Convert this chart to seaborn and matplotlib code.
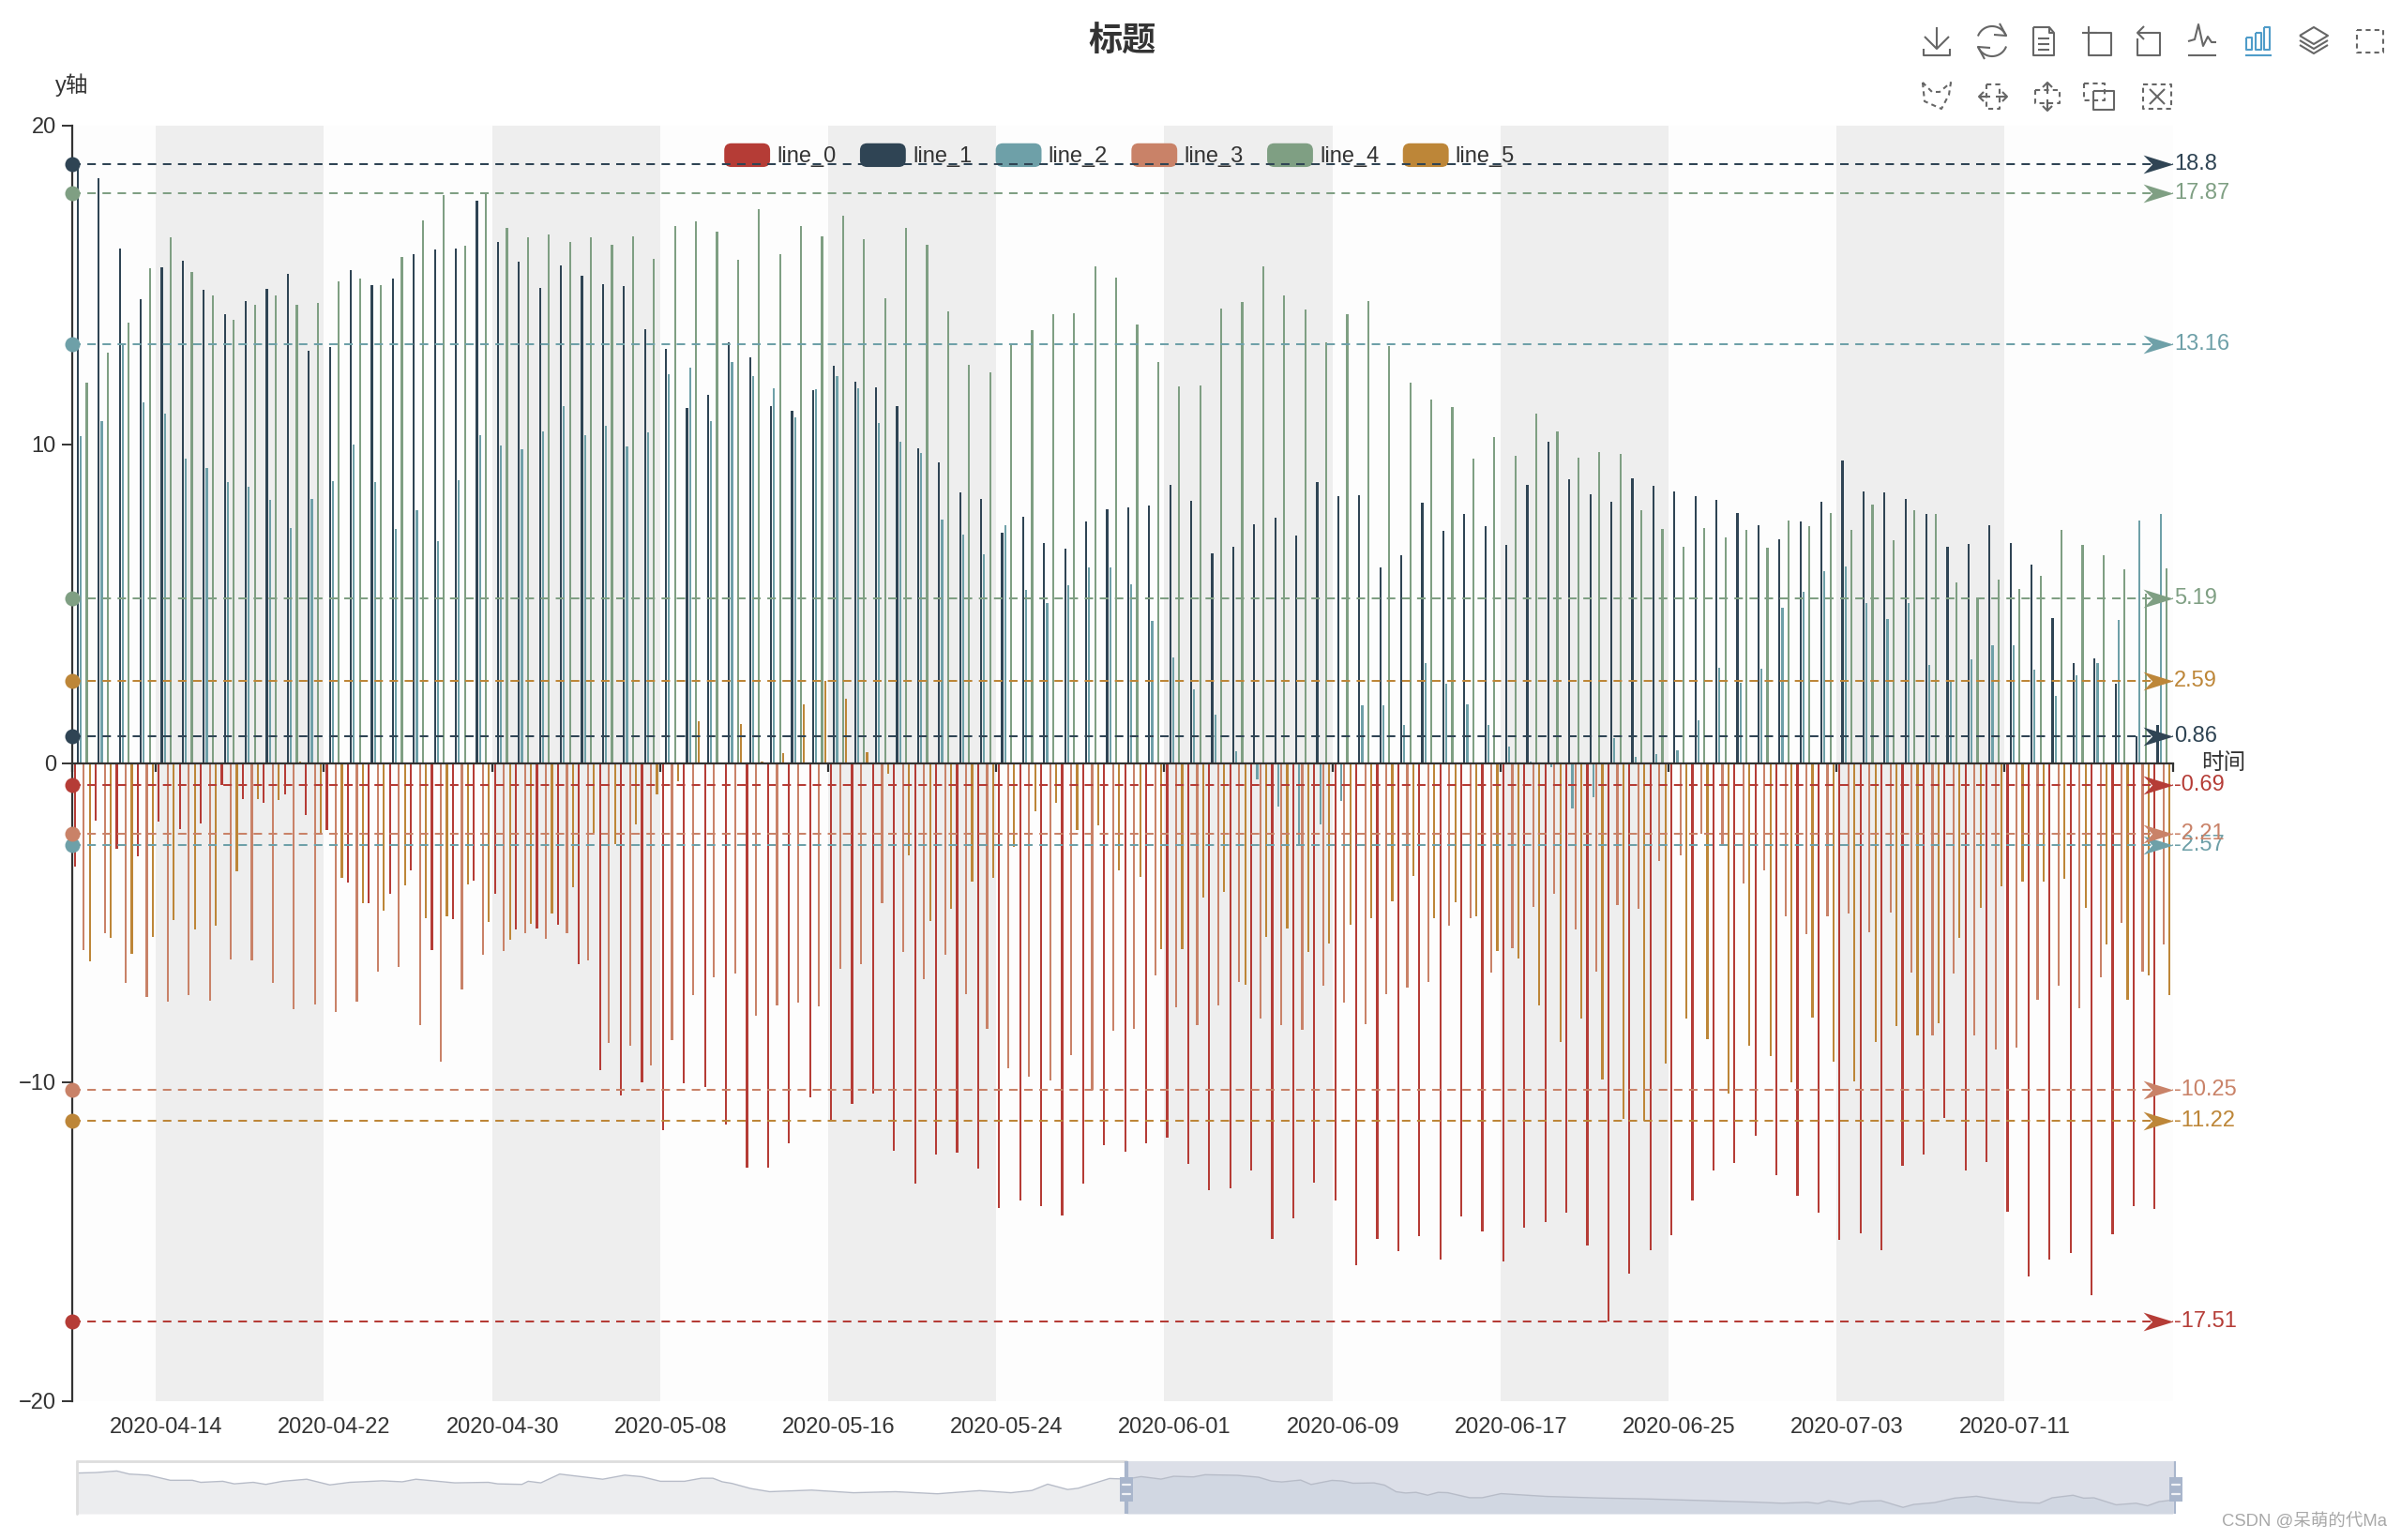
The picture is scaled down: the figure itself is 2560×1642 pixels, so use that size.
import numpy as np
import pandas as pd
import matplotlib
matplotlib.use('Agg')
import matplotlib.pyplot as plt
import seaborn as sns
from matplotlib.legend_handler import HandlerPatch
from matplotlib.patches import FancyBboxPatch, Patch, Rectangle
from matplotlib.path import Path

# Series, one value per day
line_0 = [-3.23, -1.78, -2.68, -2.9, -1.83, -2.07, -1.89, -0.69, -1.12, -1.25,
          -0.96, -1.62, -2.1, -3.75, -4.37, -4.1, -3.36, -5.85, -4.87, -3.68,
          -4.09, -5.22, -5.17, -5.06, -6.28, -9.61, -10.41, -10.0, -11.49, -10.04,
          -10.16, -11.32, -12.67, -12.69, -11.9, -10.47, -11.22, -10.67, -10.35, -12.16,
          -13.17, -12.25, -12.2, -12.71, -13.93, -13.71, -13.89, -14.17, -13.17, -11.98,
          -12.18, -11.91, -11.73, -12.56, -13.37, -13.32, -12.77, -14.91, -14.27, -13.16,
          -13.71, -15.73, -14.91, -15.29, -14.81, -15.56, -14.22, -14.68, -15.62, -14.55,
          -14.39, -14.08, -15.11, -17.51, -16.0, -15.26, -14.78, -13.72, -12.75, -12.53,
          -11.68, -12.91, -13.55, -14.08, -14.94, -14.74, -15.25, -12.62, -12.25, -11.13,
          -12.75, -12.51, -14.06, -16.1, -15.55, -15.36, -16.67, -14.75, -13.88, -13.97]
line_1 = [18.8, 18.36, 16.14, 14.56, 15.56, 15.77, 14.85, 14.1, 14.5, 14.87,
          15.34, 12.94, 13.05, 15.48, 14.99, 15.2, 15.97, 16.12, 16.14, 17.64,
          16.35, 15.74, 14.92, 15.62, 15.3, 15.04, 14.97, 13.62, 13.0, 11.14,
          11.56, 13.22, 12.74, 11.21, 11.06, 11.72, 12.46, 11.98, 11.78, 11.21,
          9.88, 9.44, 8.51, 8.3, 7.23, 7.73, 6.91, 6.74, 7.59, 7.96,
          8.02, 8.09, 8.74, 8.24, 6.59, 6.78, 7.51, 7.71, 7.14, 8.82,
          8.39, 8.41, 6.15, 6.52, 8.18, 7.29, 7.82, 7.44, 6.86, 8.74,
          10.1, 8.9, 8.45, 8.22, 8.94, 8.72, 8.52, 8.39, 8.26, 7.86,
          7.46, 7.03, 7.59, 8.22, 9.49, 8.54, 8.5, 8.3, 7.83, 6.8,
          6.89, 7.46, 6.92, 6.24, 4.55, 3.16, 3.28, 2.5, 0.86, 1.22]
line_2 = [10.25, 10.73, 13.16, 11.33, 10.98, 9.56, 9.26, 8.83, 8.69, 8.27,
          7.37, 8.29, 8.86, 10.0, 8.83, 7.35, 7.94, 6.98, 8.89, 10.28,
          9.96, 9.85, 10.41, 11.21, 10.29, 10.59, 9.93, 10.38, 12.2, 12.4,
          10.73, 12.6, 12.15, 11.76, 10.84, 11.74, 12.15, 11.77, 10.69, 10.1,
          9.74, 7.64, 7.17, 6.55, 7.47, 5.45, 5.03, 5.6, 6.16, 6.15,
          5.62, 4.47, 3.32, 2.33, 1.52, 0.37, -0.51, -1.36, -2.57, -1.9,
          -1.19, 1.81, 1.81, 1.22, 3.15, 2.51, 1.86, 1.2, 0.54, 0.07,
          -0.12, -1.4, -1.07, 0.79, 0.2, 0.29, 0.4, 1.36, 3.01, 2.54,
          2.98, 4.87, 5.39, 6.02, 6.18, 5.04, 4.54, 5.04, 3.08, 2.57,
          3.25, 3.72, 3.7, 2.93, 2.13, 2.77, 3.16, 4.5, 7.62, 7.83]
line_3 = [-5.85, -5.33, -6.88, -7.32, -7.48, -7.26, -7.43, -6.14, -6.17, -6.88,
          -7.71, -7.57, -7.78, -7.46, -6.53, -6.37, -8.22, -9.35, -7.08, -5.99,
          -5.88, -5.33, -5.5, -5.32, -6.17, -8.77, -8.85, -9.46, -8.69, -7.27,
          -6.72, -6.6, -7.9, -7.6, -7.5, -7.63, -6.44, -6.3, -4.39, -5.91,
          -6.76, -5.99, -7.23, -8.31, -9.57, -9.82, -9.95, -9.15, -10.25, -8.37,
          -8.32, -6.64, -7.65, -8.22, -7.58, -6.85, -8.01, -8.22, -8.34, -6.97,
          -7.5, -8.17, -7.25, -7.04, -6.85, -5.08, -4.84, -6.55, -5.79, -4.5,
          -4.1, -5.2, -6.54, -4.43, -4.56, -3.05, -2.87, -2.21, -2.58, -3.77,
          -3.36, -4.78, -5.35, -4.78, -4.71, -5.29, -4.69, -6.55, -8.52, -6.6,
          -8.52, -8.98, -8.9, -7.42, -6.97, -7.68, -6.7, -5.01, -6.53, -5.68]
line_4 = [11.94, 12.88, 13.81, 15.52, 16.49, 15.42, 14.69, 13.9, 14.37, 14.69,
          14.37, 14.45, 15.11, 15.21, 15.0, 15.88, 17.04, 17.82, 16.24, 17.87,
          16.8, 16.49, 16.59, 16.36, 16.5, 16.26, 16.53, 15.81, 16.84, 17.0,
          16.67, 15.79, 17.38, 15.98, 16.84, 16.54, 17.17, 16.43, 14.59, 16.79,
          16.26, 14.19, 12.49, 12.27, 13.16, 13.59, 14.08, 14.12, 15.6, 15.23,
          13.76, 12.6, 11.81, 11.85, 14.27, 14.46, 15.6, 14.68, 14.24, 13.21,
          14.09, 14.5, 13.08, 11.94, 11.42, 11.17, 9.56, 10.23, 9.65, 10.96,
          10.4, 9.6, 9.76, 9.71, 7.95, 7.35, 6.79, 7.39, 7.09, 7.32,
          6.76, 7.62, 7.45, 7.84, 7.32, 8.11, 7.0, 7.95, 7.83, 5.68,
          5.19, 5.77, 5.48, 5.87, 7.33, 6.86, 6.52, 6.09, 5.33, 6.11]
line_5 = [-6.21, -5.47, -5.96, -5.43, -4.9, -5.2, -5.08, -3.39, -1.12, -1.15,
          0.07, -2.21, -3.6, -4.38, -4.61, -3.82, -4.84, -4.78, -3.8, -4.98,
          -5.52, -5.02, -4.72, -3.88, -2.18, -2.52, -1.91, -0.96, -0.55, 1.31,
          0.03, 1.23, 0.05, 0.31, 1.85, 2.59, 2.04, 0.34, -0.33, -2.88,
          -4.95, -4.56, -3.72, -3.59, -2.63, -1.51, -1.23, -2.1, -1.93, -3.34,
          -3.56, -5.83, -5.83, -4.22, -4.02, -6.95, -5.43, -5.18, -5.91, -5.66,
          -5.05, -4.86, -4.31, -3.53, -4.84, -4.36, -4.78, -5.87, -6.13, -7.59,
          -8.74, -8.01, -9.92, -11.15, -11.22, -9.41, -8.01, -8.64, -10.34, -8.86,
          -9.17, -10.0, -7.98, -9.36, -9.97, -8.75, -8.24, -8.52, -8.15, -5.48,
          -4.53, -3.86, -3.72, -3.72, -3.63, -4.54, -5.68, -7.4, -6.66, -7.27]

series_names = ['line_0', 'line_1', 'line_2', 'line_3', 'line_4', 'line_5']
series_colors = ['#b53c36', '#2f4454', '#6ea0a8', '#c98268', '#7f9f83', '#bd8638']
mark_values = [[-0.69, -17.51], [18.8, 0.86], [13.16, -2.57],
               [-2.21, -10.25], [17.87, 5.19], [2.59, -11.22]]
dates = pd.date_range('2020-04-10', periods=100).strftime('%Y-%m-%d').tolist()

# Data shadow of the zoom slider, slider spans 200 days
shadow_day = [0, 1.8, 3.8, 5, 6.8, 8.9, 11, 11.8, 13.9, 15, 16.8, 18, 19.6, 21.9, 24.1, 26,
              29.1, 31, 32.3, 36, 39.2, 40.1, 42.4, 43, 44.2, 46, 50.1, 52.2, 53.8, 55.6,
              57.9, 59.5, 60.6, 61.5, 62.4, 64.2, 66, 70, 74, 78, 82, 86, 89,
              91, 92.5, 94.4, 95.4, 98.4, 100, 101.4, 103.3, 104.5, 106.4, 107.5, 110.6,
              112.6, 113.8, 114.8, 116.6, 117.6, 119.6, 120.6, 121.6, 123.6, 124.6, 125.7,
              126.6, 127.6, 128.7, 129.7, 130.6, 132.7, 133.9, 135.7, 140, 145, 150, 155, 160,
              162.5, 164.9, 165.9, 166.9, 168.9, 170, 171.9, 174, 175, 177, 178.9, 181,
              182.5, 185, 187, 188.2, 190.2, 191.2, 192.2, 194.3, 196.2, 197.3, 198.4, 199.7]
shadow_level = [.775, .784, .814, .755, .735, .637, .637, .598, .618, .569, .598, .559, .618, .657, .549, .598,
                .627, .608, .657, .588, .598, .569, .559, .618, .588, .755, .657, .735, .706, .618,
                .618, .676, .676, .608, .578, .48, .42, .45, .40, .42, .38, .44, .40,
                .443, .563, .461, .485, .671, .659, .707, .659, .713, .701, .743, .731,
                .695, .623, .605, .641, .557, .635, .623, .581, .587, .545, .419,
                .395, .407, .353, .407, .401, .305, .305, .383, .33, .30, .28, .25, .22,
                .2, .218, .194, .248, .182, .236, .248, .121, .176, .212, .297, .333,
                .285, .218, .2, .303, .352, .297, .303, .17, .2, .152, .23, .261]

sns.set_theme(style='white')
plt.rcParams['font.family'] = ['Liberation Sans', 'Noto Sans CJK SC']
plt.rcParams['axes.edgecolor'] = '#333333'
plt.rcParams['xtick.color'] = '#333333'
plt.rcParams['ytick.color'] = '#333333'
plt.rcParams['text.color'] = '#333333'
plt.rcParams['axes.labelcolor'] = '#333333'

W, H = 2560, 1642
fig = plt.figure(figsize=(W / 100, H / 100), dpi=100, facecolor='white')
ax = fig.add_axes([76.5 / W, 1 - 1494 / H, 2240 / W, 1360 / H])

df = pd.DataFrame({'date': dates, 'line_0': line_0, 'line_1': line_1, 'line_2': line_2,
                   'line_3': line_3, 'line_4': line_4, 'line_5': line_5})
long_df = df.melt(id_vars='date', var_name='series', value_name='value')

sns.barplot(data=long_df, x='date', y='value', hue='series', hue_order=series_names,
            palette=series_colors, saturation=1, width=0.857, gap=0.3, dodge=True,
            errorbar=None, linewidth=0, legend=False, ax=ax)
ax.set_xlim(-0.5, 99.5)
ax.set_ylim(-20, 20)

# Split areas, 8 days each
ax.set_facecolor('white')
edges = [-0.5] + list(np.arange(3.5, 99.5, 8)) + [99.5]
for k in range(len(edges) - 1):
    ax.axvspan(edges[k], edges[k + 1], color='#eeeeee' if k % 2 else '#fdfdfd', lw=0, zorder=0)

# Axes
for side in ['top', 'right']:
    ax.spines[side].set_visible(False)
ax.spines['bottom'].set_position(('data', 0))
ax.spines['bottom'].set_linewidth(1.6)
ax.spines['left'].set_linewidth(1.6)
ax.set_xticks(edges)
ax.set_xticklabels([])
ax.set_xticks(range(4, 100, 8), labels=dates[4::8], minor=True)
ax.tick_params(axis='x', which='major', bottom=True, length=6.5, width=1.6)
ax.tick_params(axis='x', which='minor', bottom=True, length=0, pad=502, labelsize=17)
ax.set_yticks([-20, -10, 0, 10, 20])
ax.tick_params(axis='y', left=True, length=8, width=1.4, pad=4, labelsize=17)
ax.set_ylabel('y轴', rotation=0, fontsize=17, ha='center', va='center')
ax.yaxis.set_label_coords(0, 1.032)
ax.set_xlabel('时间', fontsize=17, ha='center', va='center')
ax.xaxis.set_label_coords(1.024, 0.5)
ax.set_title('标题', fontsize=26, fontweight='bold', family=['Noto Sans CJK SC'], pad=57)

# Legend with rounded keys
class RoundKey(HandlerPatch):
    def create_artists(self, legend, orig, xd, yd, w, h, fs, trans):
        r = 5.5
        p = FancyBboxPatch((-xd + r, -yd + r), w - 2 * r, h - 2 * r,
                           boxstyle=f'round,pad={r},rounding_size={r}',
                           fc=orig.get_facecolor(), lw=0)
        p.set_transform(trans)
        return [p]

handles = [Patch(facecolor=c, label=n) for n, c in zip(series_names, series_colors)]
leg = ax.legend(handles=handles, ncol=6, loc='center', bbox_to_anchor=(0.4987, 0.9768),
                frameon=False, fontsize=17, borderpad=0, handlelength=2.07, handleheight=1.27,
                handletextpad=0.3, columnspacing=1.08, handler_map={Patch: RoundKey()})
leg.set_zorder(3)

# Mark lines: dot at the axis, dashed line, arrow head and value label
arrow = Path([(0, 0), (-1, 0.31), (-0.7, 0), (-1, -0.31), (0, 0)],
             [Path.MOVETO, Path.LINETO, Path.LINETO, Path.LINETO, Path.CLOSEPOLY])
for color, values in zip(series_colors, mark_values):
    for v in values:
        ax.plot([-0.5, 99.5], [v, v], color=color, lw=1.45, ls=(0, (4.5, 3.5)),
                dash_capstyle='butt', zorder=4, clip_on=False)
        ax.plot([-0.5], [v], 'o', color=color, ms=11.5, mew=0, zorder=5, clip_on=False)
        ax.plot([99.5], [v], marker=arrow, color=color, ms=46, mew=0, zorder=5, clip_on=False)
        ax.annotate(f'{v:g}', (99.5, v), xytext=(1, 0), textcoords='offset points',
                    color=color, fontsize=17, va='center', ha='left', annotation_clip=False, zorder=6)

# Zoom slider
sl = fig.add_axes([82 / W, 1 - 1614 / H, 2238 / W, 56 / H])
sl.set_xlim(0, 200)
sl.set_ylim(0, 1)
sl.axis('off')
sl.axvspan(100, 200, color='#dcdfe8', lw=0, zorder=0)
day = np.array(shadow_day)
level = np.array(shadow_level)
sl.fill_between(day, level, where=day <= 100, color='#ecedef', lw=0, zorder=1)
sl.fill_between(day, level, where=day >= 100, color='#d1d7e2', lw=0, zorder=1)
sns.lineplot(x=shadow_day, y=shadow_level, color='#b7bcc8', lw=1, ax=sl, zorder=2, legend=False)
sl.plot([0, 100], [1, 1], color='#dddddd', lw=2, clip_on=False, zorder=2)
sl.plot([0, 0], [0, 1], color='#dddddd', lw=2, clip_on=False, zorder=2)
sl.axis('off')
for d in [100, 200]:
    sl.axvline(d, color='#a9b6cc', lw=3, zorder=3)
    sl.add_patch(Rectangle((d - 0.65, 0.23), 1.3, 0.46, fc='#a9b6cc', lw=0, zorder=4, clip_on=False))
    for yy in [0.38, 0.55]:
        sl.plot([d - 0.4, d + 0.4], [yy, yy], color='#f0f2f6', lw=1.6, zorder=5, clip_on=False)

# Toolbox icons on a pixel overlay
ov = fig.add_axes([0, 0, 1, 1])
ov.set_xlim(0, W)
ov.set_ylim(H, 0)
ov.axis('off')
ov.patch.set_alpha(0)

def poly(cx, cy, pts, color='#666666', dashed=False, lw=1.5):
    xs = [cx + p[0] for p in pts]
    ys = [cy + p[1] for p in pts]
    ov.plot(xs, ys, color=color, lw=lw, ls=(0, (2.5, 2)) if dashed else '-', solid_capstyle='butt')

def box(x0, y0, x1, y1):
    return [(x0, y0), (x1, y0), (x1, y1), (x0, y1), (x0, y0)]

def arc(r, a0, a1):
    t = np.radians(np.linspace(a0, a1, 30))
    return list(zip(r * np.cos(t), r * np.sin(t)))

icons = [
    (2065, 44, [[(0, -15), (0, 8)], [(-13, -5), (0, 8), (13, -5)], [(-14, 8), (-14, 15), (14, 15), (14, 8)]]),
    (2124, 44, [arc(16, 200, 340), [(8, -19), (15, -6), (2, -7)], arc(16, 20, 160), [(-8, 19), (-15, 6), (-2, 7)]]),
    (2179, 44, [[(-11, -15), (6, -15), (11, -9), (11, 15), (-11, 15), (-11, -15)], [(6, -15), (6, -9), (11, -9)],
                [(-6, -3), (6, -3)], [(-6, 3), (6, 3)], [(-6, 9), (6, 9)]]),
    (2236, 44, [box(-9, -9, 15, 15), [(-16, -9), (0, -9)], [(-9, -16), (-9, 0)]]),
    (2291, 44, [[(-12, -3), (-12, 15), (12, 15), (12, -9), (-12, -9)], [(-5, -16), (-12, -9), (-5, -2)]]),
    (2348, 44, [[(-15, 0), (-8, -2), (-4, -18), (1, 5), (6, -5), (10, 1), (15, 1)], [(-15, 15), (15, 15)]]),
    (2467, 44, [[(-15, -6), (0, -15), (15, -6), (0, 3), (-15, -6)], [(-15, -1), (0, 8), (15, -1)], [(-15, 4), (0, 13), (15, 4)]]),
]
for cx, cy, parts in icons:
    for pts in parts:
        poly(cx, cy, pts)
for pts in [box(-13, -4, -7, 9), box(-3, -9, 3, 9), box(6, -15, 12, 9), [(-14, 15), (14, 15)]]:
    poly(2408, 44, pts, color='#4f9cc9')

poly(2527, 44, box(-14, -12, 14, 12), dashed=True)
poly(2065, 103, [(-15, -15), (-13, 5), (5, 13), (13, -2), (15, -15), (3, -5), (-5, -5), (-15, -15)], dashed=True)
poly(2125, 103, box(-7, -13, 7, 13), dashed=True)
for pts in [[(-15, 0), (-3, 0)], [(-10, -5), (-15, 0), (-10, 5)], [(3, 0), (15, 0)], [(10, -5), (15, 0), (10, 5)]]:
    poly(2125, 103, pts)
poly(2183, 103, box(-13, -7, 13, 7), dashed=True)
for pts in [[(0, -15), (0, -3)], [(-5, -10), (0, -15), (5, -10)], [(0, 3), (0, 15)], [(-5, 10), (0, 15), (5, 10)]]:
    poly(2183, 103, pts)
poly(2238, 103, box(-16, -14, 6, 4), dashed=True)
poly(2238, 103, box(-6, -6, 16, 14))
poly(2300, 103, box(-15, -13, 15, 13), dashed=True)
poly(2300, 103, [(-8, -8), (8, 8)])
poly(2300, 103, [(-8, 8), (8, -8)])

fig.text(2545 / W, 1 - 1623 / H, 'CSDN @呆萌的代Ma', color='#a8a8a8', fontsize=13.3, ha='right', va='center')

fig.savefig('out.png', dpi=100)
